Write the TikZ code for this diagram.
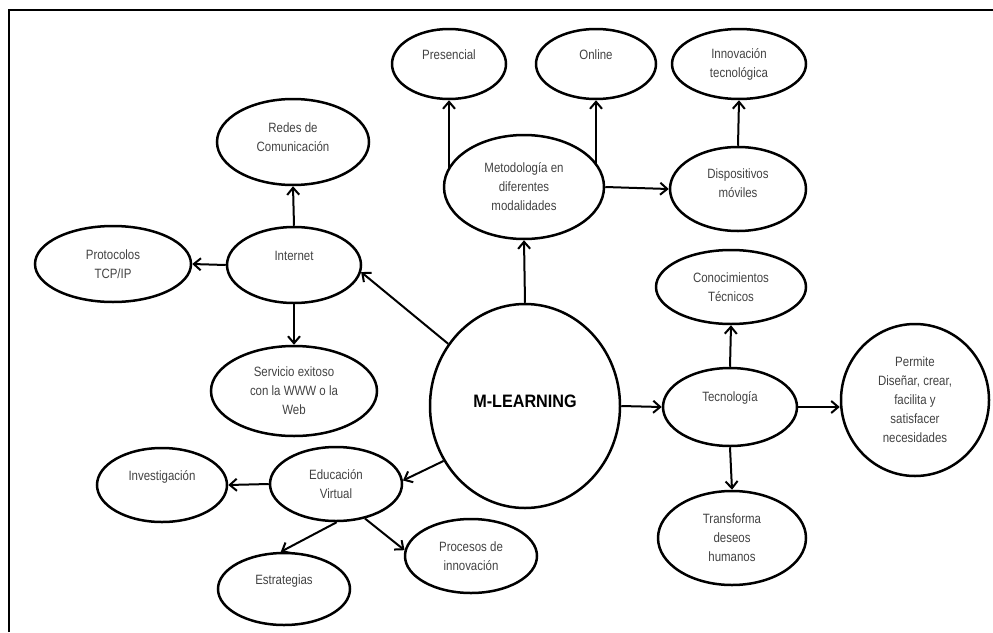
\documentclass[tikz,border=0pt]{standalone}
\usepackage{fontspec}
\setmainfont[FakeStretch=0.85]{Liberation Sans}
\newfontfamily\titlefont[FakeStretch=0.9]{Liberation Sans}
\usetikzlibrary{arrows.meta,shapes.geometric}
\definecolor{txtgray}{HTML}{424242}
\tikzset{
  bub/.style={ellipse, draw=black, line width=2.5pt, inner sep=0pt, align=center,
    text=txtgray, font=\fontsize{13.5}{19}\selectfont},
  arr/.style={line width=2pt, -{Straight Barb[length=7pt,width=12pt]}},
  frame/.style={line width=2.8pt}
}
\begin{document}
\begin{tikzpicture}[x=1pt,y=-1pt]
\useasboundingbox (0,0) rectangle (993,632);
\draw[frame] (9,632) -- (9,10) -- (993,10);

% top row
\node[bub, minimum width=114, minimum height=70] (pres) at (449,64) {Presencial\\\mbox{}};
\node[bub, minimum width=120, minimum height=70] (online) at (596,64) {Online\\\mbox{}};
\node[bub, minimum width=134, minimum height=70] (innov) at (739,64) {Innovación\\tecnológica};

\node[bub, minimum width=152, minimum height=86] (redes) at (293,142) {Redes de\\Comunicación\\[-9pt]\mbox{}};
\node[bub, minimum width=160, minimum height=104] (metod) at (524,187) {Metodología en\\diferentes\\modalidades};
\node[bub, minimum width=136, minimum height=84] (disp) at (738,189) {Dispositivos\\móviles\\[-8pt]\mbox{}};

\node[bub, minimum width=156, minimum height=76] (proto) at (113,264) {Protocolos\\TCP/IP};
\node[bub, minimum width=134, minimum height=76] (inet) at (294,265) {Internet\\\mbox{}};
\node[bub, minimum width=150, minimum height=74] (conoc) at (731,287) {Conocimientos\\Técnicos};

\node[bub, minimum width=190, minimum height=204] (ml) at (525,406) {\titlefont\fontsize{18}{20}\selectfont\bfseries\color{black}M-LEARNING\\[-10pt]\mbox{}};
\node[bub, minimum width=134, minimum height=78] (tec) at (730,407) {Tecnología\\[2pt]\mbox{}};
\node[bub, minimum width=148, minimum height=152] (perm) at (915,400) {Permite\\Diseñar, crear,\\facilita y\\satisfacer\\necesidades};

\node[bub, minimum width=166, minimum height=90] (serv) at (294,391) {Servicio exitoso\\con la WWW o la\\Web};
\node[bub, minimum width=130, minimum height=74] (inv) at (162,485) {Investigación\\\mbox{}};
\node[bub, minimum width=132, minimum height=74] (edu) at (336,484) {Educación\\Virtual};
\node[bub, minimum width=132, minimum height=74] (proc) at (471,556) {Procesos de\\innovación};
\node[bub, minimum width=132, minimum height=72] (estr) at (284,589) {Estrategias\\\mbox{}};
\node[bub, minimum width=148, minimum height=94] (transf) at (732,538) {Transforma\\deseos\\humanos};

% connectors
\draw[arr] (pres.south |- metod.166) -- (pres.south);
\draw[arr] (online.south |- metod.17) -- (online.south);
\draw[arr] (metod.east) -- (disp.west);
\draw[arr] (disp.north) -- (innov.south);
\draw[arr] (ml.north) -- (metod.south);

\draw[arr] (inet.north) -- (redes.south);
\draw[arr] (inet.west) -- (proto.east);
\draw[arr] (inet.south) -- (serv.north);
\draw[arr] (ml.141) -- (inet.-6);

\draw[arr] (ml.214) -- (edu.3);
\draw[arr] (edu.west) -- (inv.east);
\draw[arr] (edu.-89) -- (estr.95);
\draw[arr] (edu.-50) -- (proc.175);

\draw[arr] (ml.east) -- (tec.west);
\draw[arr] (tec.north) -- (conoc.south);
\draw[arr] (tec.east) -- (tec.east -| perm.west);
\draw[arr] (tec.south) -- (transf.north);
\end{tikzpicture}
\end{document}
